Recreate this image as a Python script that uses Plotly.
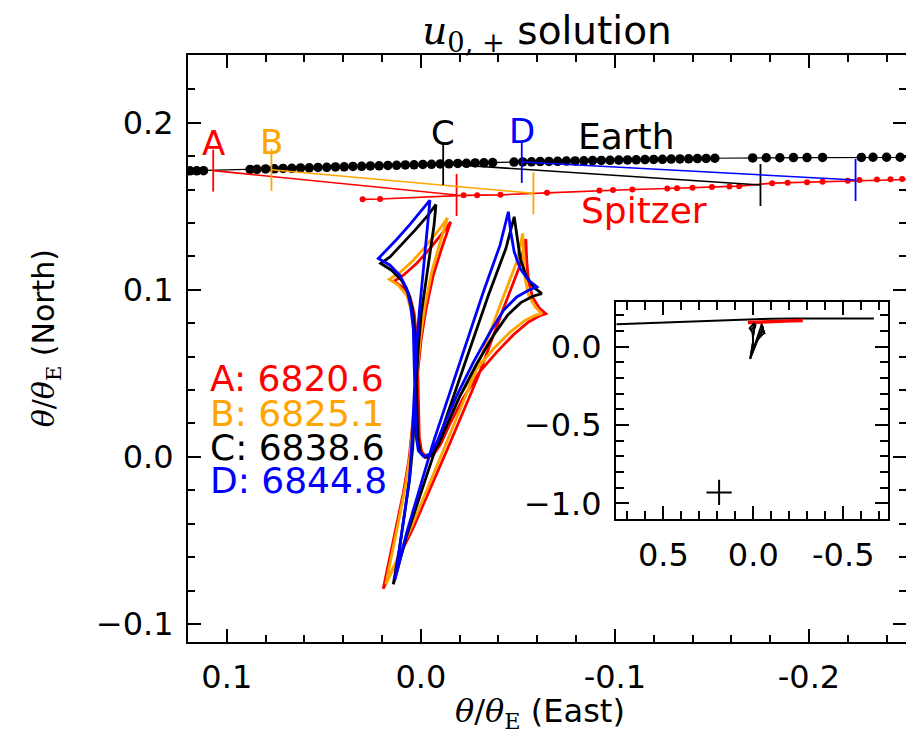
import plotly.graph_objects as go

# ---------------- data ----------------
epoch_names = ["A", "B", "C", "D"]
epoch_times = ["6820.6", "6825.1", "6838.6", "6844.8"]

earth_epoch_x = [0.107, 0.077, -0.0115, -0.052]
earth_epoch_y = [0.1713, 0.1718, 0.1753, 0.1765]
spitzer_epoch_x = [-0.0184, -0.058, -0.175, -0.224]
spitzer_epoch_y = [0.1567, 0.1577, 0.1627, 0.1657]

earth_dots_x = [0.119, 0.1155, 0.112, 0.088, 0.0845, 0.080, 0.0755, 0.071, 0.0665, 0.062, 0.0575,
                0.053, 0.0485, 0.044, 0.0395, 0.035, 0.0305, 0.026, 0.0215, 0.017, 0.0125, 0.008,
                0.0035, -0.001, -0.0055, -0.010, -0.0145, -0.019, -0.0235, -0.028, -0.0325, -0.037,
                -0.048, -0.0525, -0.057, -0.0615, -0.066, -0.0705, -0.075, -0.0795, -0.084, -0.0885,
                -0.093, -0.0975, -0.102, -0.1065, -0.111, -0.1155, -0.120, -0.1245, -0.129, -0.1335,
                -0.138, -0.1425, -0.147, -0.1515, -0.171, -0.178, -0.185, -0.192, -0.199, -0.207,
                -0.227, -0.233, -0.240, -0.247]
earth_dots_y = [0.1712, 0.1712, 0.1713, 0.1720, 0.1721, 0.1723, 0.1724, 0.1726, 0.1727, 0.1729, 0.1730,
                0.1732, 0.1733, 0.1735, 0.1736, 0.1738, 0.1739, 0.1741, 0.1742, 0.1744, 0.1745, 0.1747,
                0.1748, 0.1750, 0.1751, 0.1753, 0.1754, 0.1756, 0.1757, 0.1759, 0.1760, 0.1761,
                0.1764, 0.1765, 0.1766, 0.1767, 0.1768, 0.1769, 0.1770, 0.1771, 0.1772, 0.1773,
                0.1774, 0.1775, 0.1776, 0.1777, 0.1778, 0.1779, 0.1780, 0.1781, 0.1782, 0.1783,
                0.1784, 0.1785, 0.1786, 0.1787, 0.1789, 0.1790, 0.1790, 0.1791, 0.1791, 0.1792,
                0.1792, 0.1793, 0.1793, 0.1793]

# full Earth track (also seen in the inset)
earth_track_x = [0.76, 0.50, 0.30, 0.12, 0.088, 0.0, -0.05, -0.10, -0.15, -0.20, -0.25, -0.45, -0.67]
earth_track_y = [0.143, 0.155, 0.163, 0.1711, 0.1720, 0.1749, 0.1765, 0.1776, 0.1787, 0.1791, 0.1794, 0.1800, 0.1805]

spitzer_x = [0.030, 0.021, -0.022, -0.029, -0.041, -0.065, -0.092, -0.099, -0.109, -0.127, -0.132,
             -0.140, -0.150, -0.159, -0.164, -0.181, -0.189, -0.199, -0.207, -0.220, -0.226, -0.235,
             -0.242, -0.248, -0.275]
spitzer_y = [0.1541, 0.1543, 0.1565, 0.1566, 0.1568, 0.1580, 0.1594, 0.1597, 0.1600, 0.1606, 0.1608,
             0.1611, 0.1615, 0.1618, 0.1620, 0.1638, 0.1641, 0.1644, 0.1647, 0.1652, 0.1657, 0.1660,
             0.1662, 0.1663, 0.1668]

caustic_A_x = [-0.0154, -0.0116, -0.0047, 0.0022, 0.0090, 0.0139, 0.0096, 0.0056, 0.0034, 0.0022, 0.0016,
               0.0013, 0.0008, -0.0004, -0.0030, -0.0064, -0.0102, -0.0147, -0.0216, -0.0302, -0.0391,
               -0.0477, -0.0555, -0.0610, -0.0644, -0.0610, -0.0575, -0.0555, -0.0546, -0.0541, -0.0508,
               -0.0422, -0.0297, -0.0137, 0.0039, 0.0194, 0.0163, 0.0125, 0.0090, 0.0061, 0.0039,
               0.0018, -0.0002, -0.0027, -0.0064, -0.0107, -0.0154]
caustic_A_y = [0.1407, 0.1347, 0.1247, 0.1157, 0.1087, 0.1051, 0.1017, 0.0957, 0.0857, 0.0707, 0.0507,
               0.0307, 0.0117, 0.0031, -0.0003, 0.0011, 0.0077, 0.0191, 0.0347, 0.0507, 0.0627,
               0.0731, 0.0807, 0.0843, 0.0857, 0.0891, 0.0957, 0.1051, 0.1167, 0.1303, 0.1137,
               0.0877, 0.0487, 0.0047, -0.0423, -0.0789, -0.0613, -0.0413, -0.0213, -0.0013, 0.0247,
               0.0507, 0.0707, 0.0887, 0.1087, 0.1247, 0.1407]

caustic_B_x = [-0.0137, -0.0099, -0.0030, 0.0039, 0.0108, 0.0163, 0.0116, 0.0073, 0.0047, 0.0035, 0.0030,
               0.0027, 0.0022, 0.0008, -0.0018, -0.0052, -0.0090, -0.0133, -0.0202, -0.0288, -0.0374,
               -0.0460, -0.0537, -0.0589, -0.0623, -0.0589, -0.0555, -0.0537, -0.0529, -0.0525, -0.0494,
               -0.0408, -0.0288, -0.0133, 0.0039, 0.0180, 0.0151, 0.0116, 0.0082, 0.0056, 0.0035,
               0.0018, 0.0001, -0.0021, -0.0056, -0.0095, -0.0137]
caustic_B_y = [0.1431, 0.1367, 0.1267, 0.1177, 0.1103, 0.1063, 0.1027, 0.0967, 0.0867, 0.0727, 0.0527,
               0.0327, 0.0127, 0.0037, 0.0003, 0.0017, 0.0087, 0.0207, 0.0367, 0.0527, 0.0647,
               0.0747, 0.0817, 0.0847, 0.0857, 0.0897, 0.0967, 0.1067, 0.1197, 0.1337, 0.1167,
               0.0907, 0.0527, 0.0087, -0.0393, -0.0763, -0.0593, -0.0393, -0.0193, 0.0007, 0.0267,
               0.0527, 0.0727, 0.0907, 0.1107, 0.1267, 0.1431]

caustic_C_x = [-0.0078, -0.0035, 0.0030, 0.0104, 0.0159, 0.0207, 0.0151, 0.0099, 0.0063, 0.0042, 0.0030,
               0.0025, 0.0022, 0.0016, 0.0004, -0.0021, -0.0056, -0.0092, -0.0137, -0.0199, -0.0288,
               -0.0374, -0.0446, -0.0515, -0.0577, -0.0623, -0.0580, -0.0541, -0.0512, -0.0494, -0.0481,
               -0.0438, -0.0348, -0.0223, -0.0078, 0.0073, 0.0142, 0.0111, 0.0084, 0.0059, 0.0042,
               0.0027, 0.0013, -0.0002, -0.0027, -0.0051, -0.0068, -0.0078]
caustic_C_y = [0.1511, 0.1443, 0.1357, 0.1263, 0.1197, 0.1157, 0.1117, 0.1057, 0.0977, 0.0877, 0.0727,
               0.0527, 0.0307, 0.0117, 0.0031, -0.0003, 0.0011, 0.0077, 0.0197, 0.0357, 0.0557,
               0.0727, 0.0847, 0.0923, 0.0961, 0.0977, 0.1017, 0.1087, 0.1187, 0.1317, 0.1437,
               0.1247, 0.0967, 0.0547, 0.0057, -0.0473, -0.0763, -0.0553, -0.0343, -0.0143, 0.0057,
               0.0357, 0.0657, 0.0857, 0.1067, 0.1257, 0.1387, 0.1511]

caustic_D_x = [-0.0047, -0.0004, 0.0056, 0.0125, 0.0176, 0.0219, 0.0159, 0.0108, 0.0073, 0.0053, 0.0039,
               0.0034, 0.0030, 0.0025, 0.0013, -0.0013, -0.0047, -0.0082, -0.0125, -0.0185, -0.0271,
               -0.0357, -0.0426, -0.0494, -0.0555, -0.0598, -0.0555, -0.0512, -0.0481, -0.0463, -0.0451,
               -0.0408, -0.0322, -0.0202, -0.0064, 0.0073, 0.0133, 0.0108, 0.0082, 0.0059, 0.0047,
               0.0035, 0.0022, 0.0008, -0.0009, -0.0027, -0.0039, -0.0047]
caustic_D_y = [0.1537, 0.1475, 0.1391, 0.1301, 0.1237, 0.1187, 0.1147, 0.1087, 0.1007, 0.0907, 0.0767,
               0.0567, 0.0327, 0.0127, 0.0037, 0.0003, 0.0017, 0.0087, 0.0207, 0.0367, 0.0567,
               0.0747, 0.0877, 0.0957, 0.0997, 0.1017, 0.1057, 0.1127, 0.1227, 0.1347, 0.1467,
               0.1267, 0.0987, 0.0567, 0.0087, -0.0453, -0.0733, -0.0533, -0.0333, -0.0133, 0.0067,
               0.0367, 0.0667, 0.0867, 0.1067, 0.1267, 0.1407, 0.1537]

source_x = [0.19]
source_y = [-0.93]

# ---------------- style ----------------
colors = ["#ff0000", "#ffa500", "#000000", "#0000ff"]
FONT = "DejaVu Sans"
SERIF = "DejaVu Serif"

caustics = [(caustic_A_x, caustic_A_y), (caustic_B_x, caustic_B_y),
            (caustic_C_x, caustic_C_y), (caustic_D_x, caustic_D_y)]

fig = go.Figure()

# Earth track
fig.add_trace(go.Scatter(x=earth_track_x, y=earth_track_y, mode="lines",
                         line=dict(color="black", width=1.2), hoverinfo="skip"))
fig.add_trace(go.Scatter(x=earth_dots_x, y=earth_dots_y, mode="markers",
                         marker=dict(color="black", size=9.5), hoverinfo="skip"))
# Spitzer track
fig.add_trace(go.Scatter(x=spitzer_x, y=spitzer_y, mode="lines+markers",
                         line=dict(color="#ff0000", width=1.6),
                         marker=dict(color="#ff0000", size=6), hoverinfo="skip"))

# connecting lines and epoch ticks
for i in range(4):
    c = colors[i]
    fig.add_trace(go.Scatter(x=[earth_epoch_x[i], spitzer_epoch_x[i]],
                             y=[earth_epoch_y[i], spitzer_epoch_y[i]],
                             mode="lines+markers",
                             line=dict(color=c, width=1.6),
                             marker=dict(symbol="line-ns", size=30,
                                         line=dict(color=c, width=1.8)),
                             hoverinfo="skip"))

# caustics
for i, (cx, cy) in enumerate(caustics):
    fig.add_trace(go.Scatter(x=cx, y=cy, mode="lines",
                             line=dict(color=colors[i], width=2.8), hoverinfo="skip"))

# ---------------- inset ----------------
fig.add_trace(go.Scatter(x=earth_track_x, y=earth_track_y, mode="lines",
                         line=dict(color="black", width=2), xaxis="x2", yaxis="y2", hoverinfo="skip"))
fig.add_trace(go.Scatter(x=spitzer_x, y=spitzer_y, mode="lines",
                         line=dict(color="#ff0000", width=3.5), xaxis="x2", yaxis="y2", hoverinfo="skip"))
for cx, cy in caustics:
    fig.add_trace(go.Scatter(x=cx, y=cy, mode="lines", line=dict(color="black", width=1.3),
                             xaxis="x2", yaxis="y2", hoverinfo="skip"))
fig.add_trace(go.Scatter(x=source_x, y=source_y, mode="markers",
                         marker=dict(symbol="cross-thin", size=18, line=dict(color="black", width=2)),
                         xaxis="x2", yaxis="y2", hoverinfo="skip"))

# ---------------- annotations ----------------
ann = []
for i in range(4):
    ann.append(dict(x=earth_epoch_x[i], y=earth_epoch_y[i], xref="x", yref="y",
                    text=epoch_names[i], showarrow=False, yshift=28 + (3 if i >= 2 else 0),
                    font=dict(family=FONT, size=34, color=colors[i]),
                    xanchor="center", yanchor="middle"))
    ann.append(dict(x=0.1098, y=[0.0471, 0.0262, 0.0054, -0.0140][i], xref="x", yref="y",
                    text=f"{epoch_names[i]}: {epoch_times[i]}", showarrow=False,
                    font=dict(family=FONT, size=36, color=colors[i]),
                    xanchor="left", yanchor="middle"))
ann.append(dict(x=-0.1062, y=0.1917, xref="x", yref="y", text="Earth", showarrow=False,
                font=dict(family=FONT, size=36, color="black"), xanchor="center", yanchor="middle"))
ann.append(dict(x=-0.115, y=0.1475, xref="x", yref="y", text="Spitzer", showarrow=False,
                font=dict(family=FONT, size=36, color="#ff0000"), xanchor="center", yanchor="middle"))
theta = f'<span style="font-family:{SERIF}"><i>θ</i>/<i>θ</i><sub>E</sub></span>'
ann.append(dict(x=0.490, y=(642 - 713) / 587, xref="paper", yref="paper", text=theta + " (East)",
                showarrow=False, font=dict(family=FONT, size=32, color="black"),
                xanchor="center", yanchor="middle"))
ann.append(dict(x=-0.198, y=0.517, xref="paper", yref="paper", text=theta + " (North)",
                showarrow=False, textangle=-90, font=dict(family=FONT, size=30, color="black"),
                xanchor="center", yanchor="middle"))

axis_common = dict(showgrid=False, zeroline=False, showline=True, linewidth=2, linecolor="black",
                   mirror="allticks", ticks="inside", tickcolor="black", tickwidth=1.5,
                   automargin=False)

# page body adds an 8 px margin, so the figure is 8 px smaller than the window
fig.update_layout(
    width=906, height=727,
    margin=dict(l=180, r=8, t=47, b=93, autoexpand=False),
    paper_bgcolor="white", plot_bgcolor="white",
    showlegend=False,
    title=dict(text=f'<span style="font-family:{SERIF}"><i>u</i><sub>0, +</sub></span> solution',
               x=0.5, xref="paper", y=1 - 22 / 727, yref="container", yanchor="middle",
               xanchor="center", automargin=False,
               font=dict(family=FONT, size=39, color="black")),
    xaxis=dict(range=[0.12, -0.25], domain=[0, 1], anchor="y",
               tickvals=[0.1, 0.0, -0.1, -0.2], ticktext=["0.1", "0.0", "-0.1", "-0.2"],
               ticklen=13, minor=dict(dtick=0.02, tick0=0, ticks="inside", ticklen=7,
                                      tickcolor="black", tickwidth=1.5),
               tickfont=dict(family=FONT, size=32, color="black"), ticklabelstandoff=6,
               **axis_common),
    yaxis=dict(range=[-0.1108, 0.2405], domain=[0, 1], anchor="x",
               tickvals=[-0.1, 0.0, 0.1, 0.2], ticktext=["\u22120.1", "0.0", "0.1", "0.2"],
               ticklen=13, minor=dict(dtick=0.02, tick0=0, ticks="inside", ticklen=7,
                                      tickcolor="black", tickwidth=1.5),
               tickfont=dict(family=FONT, size=32, color="black"), ticklabelstandoff=6,
               **axis_common),
    xaxis2=dict(range=[0.763, -0.75], domain=[0.5961, 0.9753], anchor="y2",
                tickvals=[0.5, 0.0, -0.5], ticktext=["0.5", "0.0", "-0.5"],
                ticklen=13, minor=dict(dtick=0.1, tick0=0, ticks="inside", ticklen=8,
                                       tickcolor="black", tickwidth=1.5),
                tickfont=dict(family=FONT, size=32, color="black"), ticklabelstandoff=6,
                **axis_common),
    yaxis2=dict(range=[-1.102, 0.287], domain=[0.209, 0.5797], anchor="x2",
                tickvals=[0.0, -0.5, -1.0], ticktext=["0.0", "\u22120.5", "\u22121.0"],
                ticklen=13, minor=dict(dtick=0.1, tick0=0, ticks="inside", ticklen=8,
                                       tickcolor="black", tickwidth=1.5),
                tickfont=dict(family=FONT, size=32, color="black"), ticklabelstandoff=6,
                **axis_common),
    annotations=ann,
)

fig.write_html("out.html")
